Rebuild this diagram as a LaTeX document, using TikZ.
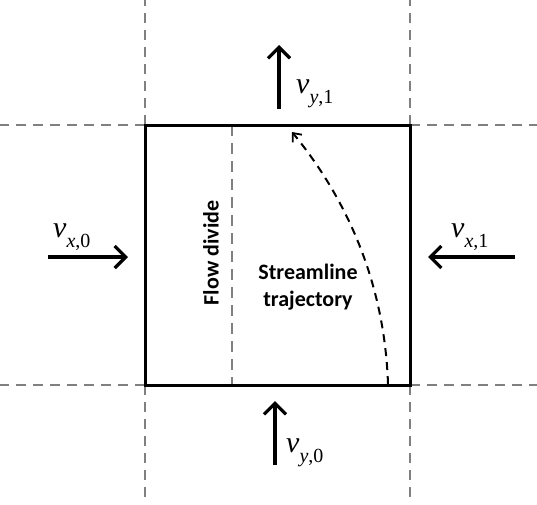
\documentclass[tikz,border=0pt]{standalone}
\usepackage{fontspec}
\setmainfont{Liberation Serif}
\newfontfamily\labelfont{Carlito}
\usepackage{tikz}
\usetikzlibrary{arrows.meta}
\newcommand{\vel}[2]{{\fontsize{30}{30}\selectfont\itshape v}%
  \raisebox{-10pt}{\fontsize{20}{20}\selectfont\itshape #1\upshape ,#2}}

\begin{document}
\begin{tikzpicture}[
  x=1pt, y=-1pt,
  grid/.style={draw=black!50, line width=1.8pt, dash pattern=on 10pt off 7pt},
  cell/.style={draw=black, line width=3pt},
  divide/.style={draw=black!50, line width=2pt, dash pattern=on 11pt off 7pt},
  stream/.style={draw=black, line width=2pt, dash pattern=on 8pt off 6pt,
                 -{Straight Barb[length=7pt,width=12pt,line width=1.8pt]}},
  flux/.style={line width=3.2pt, -{Straight Barb[length=11pt,width=22pt]}},
  flowlabel/.style={anchor=base west, inner sep=0pt},
  boxtext/.style={font=\labelfont\bfseries\fontsize{22}{27}\selectfont, align=center}
]
  \useasboundingbox (0,0) rectangle (537,504);

  % Cell corners.
  \coordinate (nw) at (145,125);
  \coordinate (ne) at (410,125);
  \coordinate (sw) at (145,385);
  \coordinate (se) at (410,385);

  % Neighbouring cell edges.
  \draw[grid] (nw) -- (145,0);
  \draw[grid] (sw) -- (145,504);
  \draw[grid] (ne) -- (410,0);
  \draw[grid] (se) -- (410,504);
  \draw[grid] (nw) -- (0,125);
  \draw[grid] (ne) -- (537,125);
  \draw[grid] (sw) -- (0,385);
  \draw[grid] (se) -- (537,385);

  % Flow divide and streamline.
  \coordinate (div-top) at (232,125);
  \coordinate (div-bot) at (232,385);
  \draw[divide] (div-top) -- (div-bot);
  \node[boxtext, rotate=90] (divide-label) at (211,253) {Flow divide};

  \coordinate (sl-start) at (388,384);
  \coordinate (sl-end) at (292,132);
  \draw[stream] (sl-start) .. controls (384,265) and (333,182) .. (sl-end);
  \node[boxtext] (stream-label) at (308,287) {Streamline\\trajectory};

  % Cell boundary.
  \draw[cell] (nw) -- (ne) -- (se) -- (sw) -- cycle;

  % Fluxes.
  \coordinate (x0-tail) at (48,257);
  \coordinate (x0-head) at (128,257);
  \draw[flux] (x0-tail) -- (x0-head);
  \node[flowlabel] (x0-label) at (53,237) {\vel{x}{0}};

  \coordinate (x1-tail) at (515,257);
  \coordinate (x1-head) at (428,257);
  \draw[flux] (x1-tail) -- (x1-head);
  \node[flowlabel] (x1-label) at (451,237) {\vel{x}{1}};

  \coordinate (y1-tail) at (279,109);
  \coordinate (y1-head) at (279,45);
  \draw[flux] (y1-tail) -- (y1-head);
  \node[flowlabel] (y1-label) at (296,93) {\vel{y}{1}};

  \coordinate (y0-tail) at (275,465);
  \coordinate (y0-head) at (275,401);
  \draw[flux] (y0-tail) -- (y0-head);
  \node[flowlabel] (y0-label) at (286,452) {\vel{y}{0}};
\end{tikzpicture}
\end{document}
